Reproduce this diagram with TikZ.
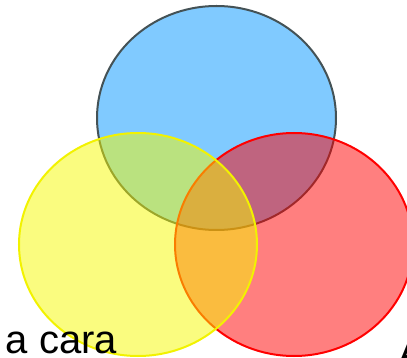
\documentclass[tikz,border=0pt]{standalone}
\usepackage{fontspec}
\setmainfont{Liberation Sans}
\definecolor{bluefill}{RGB}{128,202,255}
\definecolor{blueline}{RGB}{68,82,86}
\definecolor{yelfill}{RGB}{245,250,0}
\definecolor{yelline}{RGB}{242,242,0}
\tikzset{
  venn/.style={line width=2pt},
  lbl/.style={inner sep=0pt, anchor=base west, font=\fontsize{40}{48}\selectfont, text=black}
}
\begin{document}
\begin{tikzpicture}[x=1pt,y=-1pt]
\useasboundingbox (0,0) rectangle (407,358);
\draw[venn, fill=bluefill, draw=blueline] (216.5,118) ellipse [x radius=119.5, y radius=112];
\draw[venn, fill=red, fill opacity=0.5, draw=red] (294,244.5) ellipse [x radius=119, y radius=111.5];
\draw[venn, fill=yelfill, fill opacity=0.5, draw=yelline] (138,244.5) ellipse [x radius=119, y radius=111.5];
\node[lbl] (t1) at (5.5,353) {a cara};
\node[lbl] (t2) at (398,366) {A};
\end{tikzpicture}
\end{document}
